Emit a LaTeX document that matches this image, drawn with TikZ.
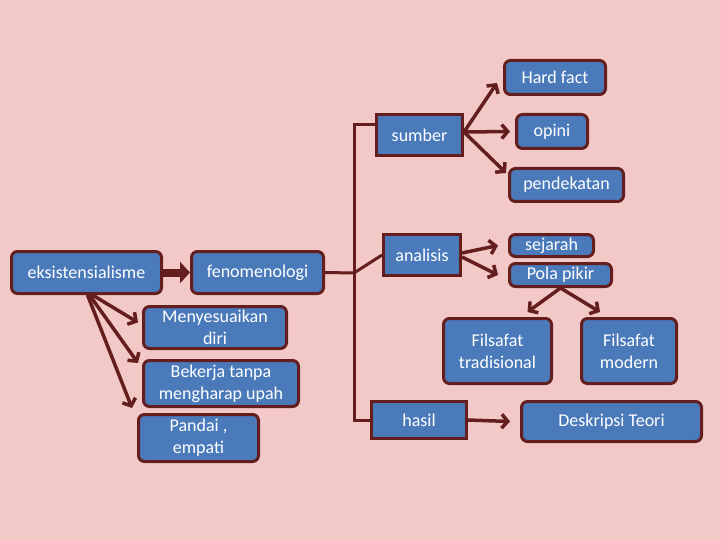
\documentclass[tikz,border=0pt]{standalone}
\usepackage{fontspec}
\setmainfont{Carlito}
\usepackage{tikz}
\usetikzlibrary{arrows.meta}

\definecolor{bgpink}{HTML}{F3C9C8}
\definecolor{boxblue}{HTML}{4A7ABA}
\definecolor{maroon}{HTML}{641E1E}

\begin{document}
\begin{tikzpicture}[
  x=1pt, y=-1pt,
  box/.style={rectangle, draw=maroon, fill=boxblue, line width=3pt, rounded corners=6pt,
    text=white, align=center, inner sep=0pt, font=\fontsize{18}{22}\selectfont},
  sqbox/.style={box, sharp corners},
  line/.style={draw=maroon, line width=3.5pt, -{Straight Barb[length=6pt, width=14pt]}},
  link/.style={draw=maroon, line width=3pt},
  fat/.style={draw=maroon, line width=8pt, -{Triangle[length=10pt, width=21pt]}}
]
\fill[bgpink] (0,0) rectangle (720,540);

\node[box, minimum width=150pt, minimum height=42pt] (eksis) at (86.5,272.5) {eksistensialisme};
\node[box, minimum width=132pt, minimum height=42pt] (feno) at (257.5,272.5) {fenomenologi};
\node[box, minimum width=143pt, minimum height=42pt] (sesuai) at (215,327.5) {Menyesuaikan\\diri};
\node[box, minimum width=155pt, minimum height=46pt] (kerja) at (221,383.5) {Bekerja tanpa\\mengharap upah};
\node[box, minimum width=120pt, minimum height=47pt] (pandai) at (198.5,438) {Pandai ,\\empati};

\node[sqbox, minimum width=86pt, minimum height=41pt] (sumber) at (419.5,135) {sumber};
\node[box, minimum width=101pt, minimum height=34pt] (hard) at (555,77.5) {Hard fact};
\node[box, minimum width=71pt, minimum height=34pt] (opini) at (552,131.5) {opini};
\node[box, minimum width=114pt, minimum height=33pt] (pendekatan) at (566.5,185) {pendekatan};

\node[sqbox, minimum width=77pt, minimum height=41pt] (analisis) at (422,255) {analisis};
\node[box, minimum width=84pt, minimum height=22pt] (sejarah) at (551.5,245.5) {sejarah};
\node[box, minimum width=102pt, minimum height=23pt] (pola) at (560.5,275) {Pola pikir};
\node[box, minimum width=108pt, minimum height=65pt] (tradisi) at (497.5,351) {Filsafat\\tradisional};
\node[box, minimum width=95pt, minimum height=65pt] (modern) at (629,351) {Filsafat\\modern};

\node[sqbox, minimum width=95pt, minimum height=37pt] (hasil) at (419,420) {hasil};
\node[box, minimum width=180pt, minimum height=40pt] (teori) at (611.5,421.5) {Deskripsi Teori};

\coordinate (spine) at (354,273);

\draw[fat] (eksis.east) -- (feno.west);
\draw[line] ([xshift=6pt]eksis.south) -- ([shift={(-4pt,5pt)}]sesuai.west);
\draw[line] ([xshift=3pt]eksis.south) -- ([shift={(-4pt,-4pt)}]kerja.north west);
\draw[line] ([xshift=1pt]eksis.south) -- ([shift={(-5pt,5pt)}]pandai.north west);

\draw[link] (feno.east) -- (spine) -- (analisis.west);
\draw[link] ([yshift=10pt]sumber.west) -| (spine |- hasil.west) -- (hasil.west);

\draw[line] ([yshift=3pt]sumber.east) -- ([shift={(-6pt,13pt)}]hard.south west);
\draw[line] ([yshift=3pt]sumber.east) -- ([xshift=-5pt]opini.west);
\draw[line] ([yshift=3pt]sumber.east) -- ([shift={(-2pt,-6pt)}]pendekatan.north west);

\draw[line] ([yshift=2pt]analisis.east) -- ([xshift=-10pt]sejarah.west);
\draw[line] ([yshift=-2pt]analisis.east) -- ([xshift=-10pt]pola.west);
\draw[line] (pola.south) -- ([shift={(30pt,5pt)}]tradisi.north);
\draw[line] (pola.south) -- ([shift={(-29pt,5pt)}]modern.north);

\draw[line] (hasil.east) -- ([xshift=-10pt]teori.west);
\end{tikzpicture}
\end{document}
